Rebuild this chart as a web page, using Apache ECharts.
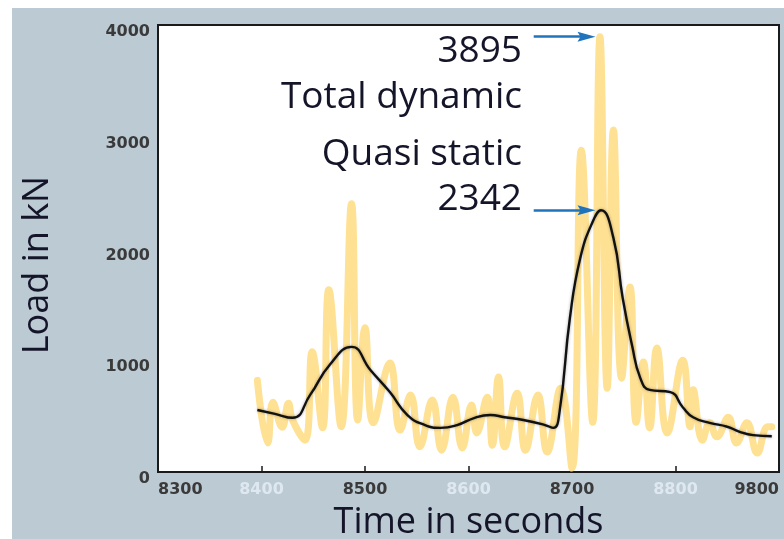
<!DOCTYPE html>
<html>
<head>
<meta charset="utf-8">
<script src="https://cdn.jsdelivr.net/npm/echarts@6/dist/echarts.min.js"></script>
<style>
  html, body { margin: 0; padding: 0; background: #fff; }
  #panel { position: absolute; left: 12px; top: 8px; width: 772px; height: 531px; background: #bbcad3; }
  #content_data { position: absolute; left: 0; top: 0; width: 784px; height: 539px; }
</style>
</head>
<body>
<div id="panel"></div>
<div id="content_data"></div>
<script>
// total dynamic load (yellow), peaks and troughs
const dynTime = [8396, 8406, 8411, 8420, 8426, 8430, 8442, 8449, 8459, 8465, 8477, 8487, 8493, 8500, 8508,
  8524, 8534, 8544, 8553, 8565, 8574, 8585, 8594, 8603, 8608, 8618, 8623, 8629, 8635, 8647, 8655, 8667,
  8676, 8689, 8700, 8709, 8720, 8727, 8734, 8740, 8748, 8756, 8762, 8769, 8775, 8782, 8792, 8807, 8814,
  8817, 8826, 8833, 8840, 8851, 8859, 8869, 8879, 8889, 8893];
const dynLoad = [820, 260, 625, 400, 615, 465, 285, 1075, 395, 1630, 405, 2400, 465, 1290, 440,
  975, 375, 690, 225, 645, 195, 670, 215, 600, 350, 670, 240, 850, 225, 705, 195, 690,
  180, 750, 35, 2880, 445, 3895, 750, 3060, 840, 1655, 445, 985, 395, 1110, 350, 1000, 405,
  735, 285, 440, 315, 490, 260, 440, 170, 405, 405];

// quasi static load (black)
const quasiTime = [8396, 8413, 8430, 8447, 8466, 8487, 8505, 8524, 8541, 8558, 8573, 8589, 8606, 8621,
  8635, 8653, 8674, 8682, 8688, 8698, 8708, 8720, 8728, 8740, 8749, 8758, 8766, 8775, 8795, 8807,
  8817, 8833, 8850, 8862, 8875, 8893];
const quasiLoad = [555, 520, 485, 690, 960, 1120, 915, 715, 510, 420, 395, 420, 485, 510,
  490, 465, 420, 395, 540, 1380, 1915, 2240, 2342, 2095, 1555, 1135, 840, 735, 715, 580,
  490, 440, 405, 360, 330, 320];

// tick labels as printed (last one really reads 9800)
const xTickValues = [8300, 8400, 8500, 8600, 8700, 8800, 8900];
const xTickLabels = ['8300', '8400', '8500', '8600', '8700', '8800', '9800'];
const xTickPale = [false, true, false, true, false, true, false];

// arrows: start time, end time, load
const arrowStart = 8663;
const arrowEnd = 8714;
const peakDynamic = 3895;
const peakQuasi = 2342;

const dynData = dynTime.map((t, i) => [t, dynLoad[i]]);
const quasiData = quasiTime.map((t, i) => [t, quasiLoad[i]]);

let Chart = echarts.init(document.getElementById('content_data'));

const bigFont = '"Open Sans", "DejaVu Sans", sans-serif';
const textColor = '#15152a';
// narrow arrow head, padded to a square box so it keeps its shape
const arrowHead = 'path://M-9,0 M9,18 M0,0 L5,18 L0,15 L-5,18 Z';

const note = (text, y) => ({
    type: 'text', x: 522, y: y,
    style: { text: text, font: '37px ' + bigFont, fill: textColor, textAlign: 'right', textVerticalAlign: 'middle' }
});

Chart.setOption({
    animation: false,
    backgroundColor: 'transparent',
    grid: {
        left: 158,
        top: 25,
        right: 5,
        bottom: 67,
        outerBoundsMode: 'none',
        show: true,
        backgroundColor: '#fff',
        borderColor: '#1a1a1a',
        borderWidth: 2
    },
    xAxis: {
        type: 'value',
        min: 8300,
        max: 8900,
        interval: 100,
        name: 'Time in seconds',
        nameLocation: 'middle',
        nameGap: 33,
        nameTextStyle: { fontFamily: bigFont, fontSize: 36, color: textColor },
        axisLine: { show: true, lineStyle: { color: '#1a1a1a', width: 2 } },
        axisTick: { show: true, inside: true, length: 6, lineStyle: { color: '#1a1a1a', width: 1.5 } },
        splitLine: { show: false },
        axisLabel: {
            margin: 10,
            alignMinLabel: 'left',
            alignMaxLabel: 'right',
            formatter: (v) => {
                const i = xTickValues.indexOf(v);
                if (i < 0) return '';
                return xTickPale[i] ? '{pale|' + xTickLabels[i] + '}' : '{dark|' + xTickLabels[i] + '}';
            },
            rich: {
                dark: { color: '#3a3a3a', fontFamily: 'DejaVu Sans', fontWeight: 'bold', fontSize: 16 },
                pale: { color: '#dfe8f0', fontFamily: 'DejaVu Sans', fontWeight: 'bold', fontSize: 16 }
            }
        }
    },
    yAxis: {
        type: 'value',
        min: 0,
        max: 4000,
        interval: 1000,
        axisLine: { show: false },
        axisTick: { show: false },
        splitLine: { show: false },
        axisLabel: {
            margin: 8,
            verticalAlign: 'top',
            lineHeight: 14,
            formatter: (v) => String(v),
            color: '#3a3a3a',
            fontFamily: 'DejaVu Sans',
            fontWeight: 'bold',
            fontSize: 16
        }
    },
    graphic: [
        {
            type: 'text', x: 38, y: 265, rotation: Math.PI / 2,
            style: { text: 'Load in kN', font: '36px ' + bigFont, fill: textColor, textAlign: 'center', textVerticalAlign: 'middle' }
        },
        note('3895', 51),
        note('Total dynamic', 97),
        note('Quasi static', 154),
        note('2342', 199)
    ],
    series: [
        {
            name: 'Total dynamic',
            type: 'line',
            data: dynData,
            smooth: 0.45,
            showSymbol: false,
            z: 2,
            lineStyle: { color: '#ffe194', width: 7, cap: 'round', join: 'round' }
        },
        {
            name: 'Quasi static',
            type: 'line',
            data: quasiData,
            smooth: 0.5,
            showSymbol: false,
            z: 3,
            lineStyle: { color: '#111', width: 2.4, shadowColor: 'rgba(0,0,0,0.35)', shadowBlur: 3 },
            markLine: {
                silent: true,
                symbol: ['none', arrowHead],
                symbolSize: 18,
                label: { show: false },
                lineStyle: { color: '#1f74bd', width: 2.5, type: 'solid' },
                data: [
                    [{ coord: [arrowStart, peakDynamic] }, { coord: [arrowEnd, peakDynamic] }],
                    [{ coord: [arrowStart, peakQuasi] }, { coord: [arrowEnd, peakQuasi] }]
                ]
            }
        }
    ]
});
</script>
</body>
</html>
